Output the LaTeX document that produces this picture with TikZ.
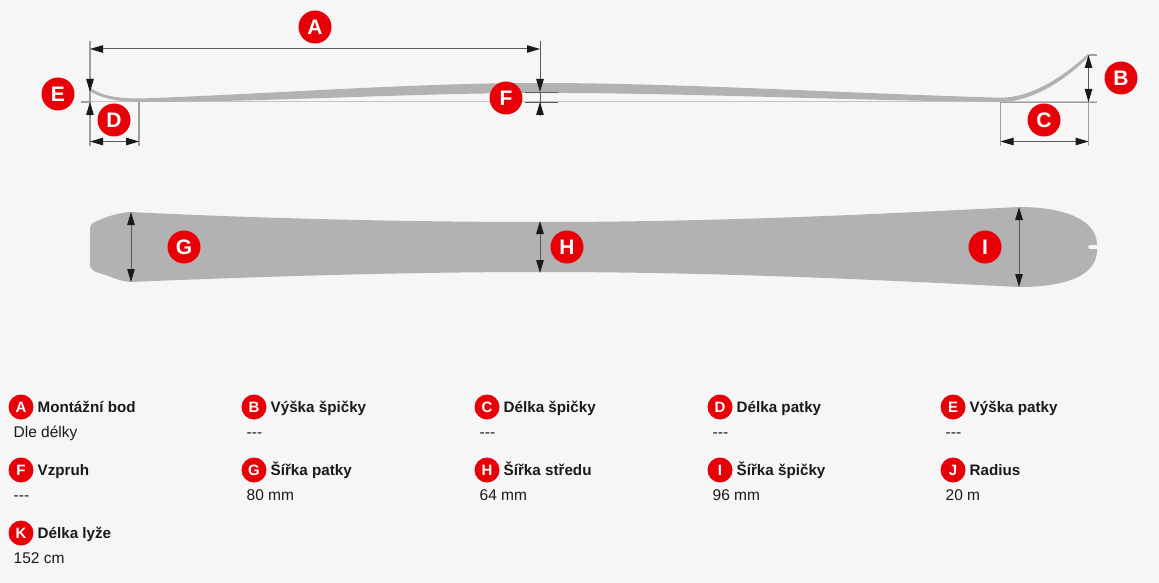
\documentclass[tikz,border=0pt]{standalone}
\usepackage{fontspec}
\setmainfont{Liberation Sans}
\usetikzlibrary{arrows.meta}
\definecolor{pagebg}{HTML}{F6F6F6}
\definecolor{skigray}{HTML}{B2B2B2}
\definecolor{extgray}{HTML}{9E9E9E}
\definecolor{thingray}{HTML}{C4C4C4}
\definecolor{dimdark}{HTML}{5A5A5A}
\definecolor{badgered}{HTML}{E80008}
\definecolor{inkdark}{HTML}{1A1A1A}
\tikzset{
  bigbadge/.style={circle,fill=badgered,text=white,minimum size=33pt,inner sep=0pt,font=\fontsize{21}{21}\selectfont\bfseries},
  smallbadge/.style={circle,fill=badgered,text=white,minimum size=25pt,inner sep=0pt,font=\fontsize{15}{15}\selectfont\bfseries},
  titletext/.style={anchor=base west,inner sep=0pt,text=inkdark,font=\fontsize{15.2}{15}\selectfont\bfseries},
  valuetext/.style={anchor=base west,inner sep=0pt,text=inkdark,font=\fontsize{15.5}{15}\selectfont},
  extline/.style={draw=extgray,line width=1.2pt},
  thinline/.style={draw=thingray,line width=1pt},
  tickline/.style={draw=dimdark,line width=.9pt},
  dimboth/.style={draw=dimdark,line width=1pt,{Triangle[length=13pt,width=7.5pt,color=inkdark]}-{Triangle[length=13pt,width=7.5pt,color=inkdark]}},
  dimend/.style={draw=dimdark,line width=1pt,-{Triangle[length=13pt,width=7.5pt,color=inkdark]}},
  skifill/.style={fill=skigray,draw=none}
}
\begin{document}
\begin{tikzpicture}[x=1pt,y=-1pt]
\path[use as bounding box,fill=pagebg] (0,0) rectangle (1159,583);

% baseline and extension lines
\draw[thinline] (81,102) -- (1097,102);
\draw[extline] (90,41) -- (90,146);
\draw[extline] (139,102) -- (139,146);
\draw[tickline] (540,41) -- (540,113);
\draw[extline] (1000.5,102) -- (1000.5,146);
\draw[extline] (1088.5,55) -- (1088.5,146);
\draw[extline] (1088.5,55) -- (1097,55);
\draw[extline] (81,102) -- (90,102);
\draw[draw=extgray,line width=.9pt] (1000.5,102) -- (1097,102);

% side profile
\path[skifill] (90,87.5) .. controls (100,95) and (115,98.5) .. (140,98.5)
  .. controls (270,94) and (410,83) .. (540,83)
  .. controls (680,83) and (850,93.5) .. (1000,97.7)
  .. controls (1030,98) and (1062,78) .. (1088,54)
  -- (1088,57)
  .. controls (1064,82) and (1030,102) .. (1000,102)
  .. controls (850,100.5) and (670,92.5) .. (540,93)
  .. controls (410,93) and (270,102) .. (140,102)
  .. controls (118,102) and (100,98) .. (90,91) -- cycle;
\draw[tickline] (525,92) -- (558,92);
\draw[tickline] (525,102) -- (558,102);

% plan view
\path[skifill] (130,212)
  .. controls (250,218) and (400,222) .. (540,222)
  .. controls (720,222) and (880,214) .. (1019,207)
  .. controls (1065,207) and (1097,220) .. (1097,245)
  -- (1097,250)
  .. controls (1097,276) and (1065,287) .. (1019,287)
  .. controls (880,280) and (720,272) .. (540,272)
  .. controls (400,272) and (250,277) .. (130,282)
  .. controls (118,281) and (108,275) .. (96,272)
  .. controls (92,270) and (90,268) .. (90,264)
  -- (90,228)
  .. controls (90,225) and (92,223) .. (96,221.5)
  .. controls (108,216) and (118,213) .. (130,212) -- cycle;
\draw[pagebg,line width=3.5pt,line cap=round] (1090,247) -- (1099,247);

% dimension anchors
\coordinate (a1) at (90,49);     \coordinate (a2) at (540,49);
\coordinate (b1) at (1088.5,55); \coordinate (b2) at (1088.5,102);
\coordinate (c1) at (1000.5,141.5); \coordinate (c2) at (1088.5,141.5);
\coordinate (d1) at (90,141.5);  \coordinate (d2) at (139,141.5);
\coordinate (e0) at (90,78);     \coordinate (e1) at (90,92);
\coordinate (e2) at (90,102);    \coordinate (e3) at (90,116);
\coordinate (f0) at (540,78);    \coordinate (f1) at (540,92);
\coordinate (f2) at (540,102);   \coordinate (f3) at (540,116);
\coordinate (g1) at (131,212);   \coordinate (g2) at (131,282);
\coordinate (h1) at (540,221);   \coordinate (h2) at (540,273);
\coordinate (i1) at (1019,207);  \coordinate (i2) at (1019,287);

\draw[dimboth] (a1) -- (a2);
\draw[dimboth] (b1) -- (b2);
\draw[dimboth] (c1) -- (c2);
\draw[dimboth] (d1) -- (d2);
\draw[dimend] (e0) -- (e1);
\draw[dimend] (e3) -- (e2);
\draw[dimend] (f0) -- (f1);
\draw[dimend] (f3) -- (f2);
\draw[dimboth] (g1) -- (g2);
\draw[dimboth] (h1) -- (h2);
\draw[dimboth] (i1) -- (i2);

% diagram badges
\node[bigbadge] (bA) at (315,27) {A};
\node[bigbadge] (bB) at (1121,78) {B};
\node[bigbadge] (bC) at (1044,120) {C};
\node[bigbadge] (bD) at (114,120) {D};
\node[bigbadge] (bE) at (58,94) {E};
\node[bigbadge] (bF) at (506,98) {F};
\node[bigbadge] (bG) at (184,247) {G};
\node[bigbadge] (bH) at (567,247) {H};
\node[bigbadge] (bI) at (985,247) {I};

% legend
\node[smallbadge] (lA) at (21,407) {A};
\node[titletext] (tA) at (37.5,412) {Montážní bod};
\node[valuetext] (vA) at (13.5,437) {Dle délky};
\node[smallbadge] (lB) at (254,407) {B};
\node[titletext] (tB) at (270.5,412) {Výška špičky};
\node[valuetext] (vB) at (246.5,437) {{-}{-}{-}};
\node[smallbadge] (lC) at (487,407) {C};
\node[titletext] (tC) at (503.5,412) {Délka špičky};
\node[valuetext] (vC) at (479.5,437) {{-}{-}{-}};
\node[smallbadge] (lD) at (720,407) {D};
\node[titletext] (tD) at (736.5,412) {Délka patky};
\node[valuetext] (vD) at (712.5,437) {{-}{-}{-}};
\node[smallbadge] (lE) at (953,407) {E};
\node[titletext] (tE) at (969.5,412) {Výška patky};
\node[valuetext] (vE) at (945.5,437) {{-}{-}{-}};

\node[smallbadge] (lF) at (21,470) {F};
\node[titletext] (tF) at (37.5,475) {Vzpruh};
\node[valuetext] (vF) at (13.5,500) {{-}{-}{-}};
\node[smallbadge] (lG) at (254,470) {G};
\node[titletext] (tG) at (270.5,475) {Šířka patky};
\node[valuetext] (vG) at (246.5,500) {80 mm};
\node[smallbadge] (lH) at (487,470) {H};
\node[titletext] (tH) at (503.5,475) {Šířka středu};
\node[valuetext] (vH) at (479.5,500) {64 mm};
\node[smallbadge] (lI) at (720,470) {I};
\node[titletext] (tI) at (736.5,475) {Šířka špičky};
\node[valuetext] (vI) at (712.5,500) {96 mm};
\node[smallbadge] (lJ) at (953,470) {J};
\node[titletext] (tJ) at (969.5,475) {Radius};
\node[valuetext] (vJ) at (945.5,500) {20 m};

\node[smallbadge] (lK) at (21,533) {K};
\node[titletext] (tK) at (37.5,538) {Délka lyže};
\node[valuetext] (vK) at (13.5,563) {152 cm};
\end{tikzpicture}
\end{document}
